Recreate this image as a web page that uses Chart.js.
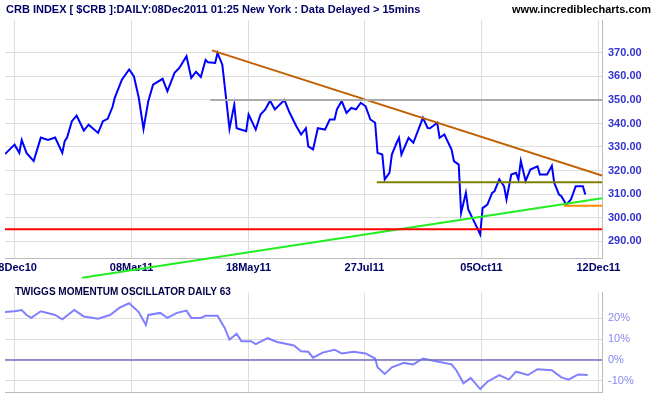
<!DOCTYPE html>
<html>
<head>
<meta charset="utf-8">
<script src="https://cdn.jsdelivr.net/npm/chart.js@4/dist/chart.umd.min.js"></script>
<style>
  body { margin: 0; background: #fff; width: 665px; height: 405px; position: relative; overflow: hidden; font-family: Arial, "Liberation Sans", sans-serif; }
  .box { position: absolute; left: 0; width: 665px; }
  #title { position: absolute; left: 6px; top: 3px; font-size: 11px; font-weight: bold; color: #000066; }
  #site { position: absolute; right: 14px; top: 3px; font-size: 11px; font-weight: bold; color: #000; }
  #oscTitle { position: absolute; left: 15px; top: 286px; font-size: 10px; font-weight: bold; color: #000044; }
</style>
</head>
<body>
<div class="box" style="top:0;height:285px"><canvas id="priceChart"></canvas></div>
<div class="box" style="top:280px;height:125px"><canvas id="oscChart"></canvas></div>
<div id="title">CRB INDEX [ $CRB ]:DAILY:08Dec2011 01:25 New York : Data Delayed &gt; 15mins</div>
<div id="site">www.incrediblecharts.com</div>
<div id="oscTitle">TWIGGS MOMENTUM OSCILLATOR DAILY 63</div>
<script>
// trading day index (0 = 28Dec10)
let dateTicks = [0, 49, 98, 146.5, 195.5, 244.5];
let dateLabels = ['28Dec10', '08Mar11', '18May11', '27Jul11', '05Oct11', '12Dec11'];

let priceDays = [-4, 0, 2, 3, 5, 8, 11, 14, 17, 20, 21, 22, 24, 26, 29, 31, 35, 37, 39, 41, 42, 45, 48, 50, 52, 54, 56, 58, 62, 64, 67, 69, 72, 74, 76, 78, 80, 81, 84, 85, 87, 89, 90, 92, 93, 97, 98, 101, 103, 105, 107, 109, 113, 115, 118, 120, 122, 123, 125, 127, 130, 132,
  134, 135, 137, 139, 141, 143, 145, 147, 149, 151, 152, 154, 155, 157, 158, 160, 161, 162, 165, 167, 171, 173, 174, 177, 178, 180, 183, 184, 186, 187, 189, 190, 192, 194, 195, 196, 198, 200, 201, 203, 205, 206, 208, 210, 211, 212, 214, 216, 219, 220, 223, 225, 226, 228, 229, 231, 233, 235, 238, 239];
let priceValues = [327, 331, 327.5, 333, 327.5, 324, 334, 333, 334, 327.5, 332.5, 334, 341, 343.4, 337, 339.5, 336, 341, 342, 347, 351, 358.7, 363, 360, 351, 337.7, 349.5, 356.5, 359, 353.7, 361.5, 363.6, 368.6, 359.4, 362, 359.8, 367, 366, 365.7, 370, 365, 347, 337.7, 348, 338, 336.7, 343.8, 337.4, 343.8, 346, 349.7, 346, 350, 345, 338.8, 335.3, 338, 330.3, 329, 338, 337.4, 341.7,
  341.7, 346, 349.5, 344.5, 346.6, 346, 348.8, 347.3, 341.7, 340.3, 327.5, 326.8, 316.2, 319, 326.8, 331.8, 333.9, 326.8, 333.9, 331.8, 342.4, 338.1, 338, 340.3, 333.9, 335.3, 328.9, 324, 322.5, 302, 310.5, 303.4, 299.2, 295, 292.8, 304, 305.5, 310.5, 311.2, 316.2, 313.3, 307.7, 318.3, 319, 316.2, 324, 315.5, 320.4, 321.8, 318.3, 318.3, 322, 314.8, 309.8, 309.1, 305.5, 307.7, 313.3, 313.3, 309.8];

let oscDays = [-4, 0, 3, 5, 7, 11, 17, 20, 25, 29, 35, 40, 44, 48, 52, 55, 56, 61, 64, 68, 72, 74, 78, 80, 85, 88, 90, 93, 95, 99, 101, 106, 110, 117, 120, 123, 125, 129, 134, 137, 142, 147, 151, 152, 155, 158, 163, 167, 171, 177, 183, 185, 188, 191, 195, 198, 203, 207, 210, 215, 219, 225, 229, 232, 236, 240];
let oscValues = [22.9, 23.3, 23.9, 21.5, 20.1, 23.3, 21.5, 19.4, 23.9, 20.8, 19.7, 21.5, 25, 27.1, 22.9, 16.7, 21.5, 22.5, 20.1, 22.5, 23.6, 20.1, 20.1, 21.1, 21.1, 15.3, 9.7, 12.5, 9, 9, 7.6, 10.4, 8.6, 6.9, 4.2, 3.9, 1.1, 3.5, 4.9, 3.1, 3.9, 3.1, 0.7, -3.5, -6.7, -3.5, -1.4, -2.1, 0.7, -0.7, -2.1, -4.9, -11.1, -8.6, -13.9, -10.4, -7.2, -9.4, -5.6, -7.2, -4.4, -4.9, -8.3, -9.4, -6.9, -7.2];

// trend lines: [startDay, startValue, endDay, endValue]
let resistanceLine = [82.7, 371.1, 246, 317.9];
let supportLine = [28.3, 274.4, 246, 308.2];
let level350 = [82, 350, 246, 350];
let level315 = [151.7, 315, 246, 315];
let level305 = [230, 305, 246, 305];
let level295 = [-4, 295, 246, 295];

function seg(a) { return [{x: a[0], y: a[1]}, {x: a[2], y: a[3]}]; }
function pairs(xs, ys) { return xs.map((x, i) => ({x: x, y: ys[i]})); }
function lineSet(a, color, w, clip) {
    return {data: seg(a), borderColor: color, borderWidth: w, pointRadius: 0, clip: clip ? false : undefined};
}

let xMin = -4, xMax = 246;
let grid = '#dddddd';

function xScale(showLabels, h) {
    return {
        type: 'linear', min: xMin, max: xMax,
        afterBuildTicks: s => { s.ticks = dateTicks.map(v => ({value: v})); },
        ticks: {
            display: showLabels, autoSkip: false, maxRotation: 0,
            color: '#000066', font: {size: 11, weight: 'bold', family: 'Arial'},
            callback: (v, i) => dateLabels[i]
        },
        grid: {color: grid, drawTicks: false},
        border: {color: '#bbbbbb'},
        afterFit: s => { s.height = h; s.paddingLeft = 0; s.paddingRight = 0; }
    };
}

new Chart(document.getElementById('priceChart').getContext('2d'), {
    type: 'line',
    data: {
        datasets: [
            lineSet(level295, '#ff0000', 2),
            lineSet(level350, '#aaaaaa', 2),
            lineSet(level315, '#808000', 2),
            lineSet(level305, '#ff8c00', 2),
            lineSet(resistanceLine, '#c06000', 2),
            lineSet(supportLine, '#22ee22', 2, true),
            {data: pairs(priceDays, priceValues), borderColor: '#0000ff', borderWidth: 2, pointRadius: 0, tension: 0}
        ]
    },
    options: {
        animation: false, responsive: true, maintainAspectRatio: false,
        layout: {padding: {left: 5, top: 20, right: 0, bottom: 0}},
        plugins: {legend: {display: false}, tooltip: {enabled: false}},
        scales: {
            x: xScale(true, 27),
            y: {
                position: 'right', min: 282.8, max: 384,
                afterBuildTicks: s => { s.ticks = [290, 300, 310, 320, 330, 340, 350, 360, 370].map(v => ({value: v})); },
                ticks: {color: '#3333cc', font: {size: 11, weight: 'bold', family: 'Arial'}, padding: 6, callback: v => v.toFixed(2)},
                grid: {color: grid, drawTicks: false},
                border: {color: '#bbbbbb'},
                afterFit: s => { s.width = 63; }
            }
        }
    }
});

new Chart(document.getElementById('oscChart').getContext('2d'), {
    type: 'line',
    data: {
        datasets: [
            lineSet([xMin, 0, xMax, 0], '#7070c0', 1.5),
            {data: pairs(oscDays, oscValues), borderColor: '#8080ff', borderWidth: 2, pointRadius: 0, tension: 0}
        ]
    },
    options: {
        animation: false, responsive: true, maintainAspectRatio: false,
        layout: {padding: {left: 5, top: 3, right: 0, bottom: 0}},
        plugins: {legend: {display: false}, tooltip: {enabled: false}},
        scales: {
            x: xScale(false, 8),
            y: {
                position: 'right', min: -15.5, max: 32.2,
                afterBuildTicks: s => { s.ticks = [-10, 0, 10, 20].map(v => ({value: v})); },
                ticks: {color: '#8888ee', font: {size: 11, family: 'Arial'}, padding: 6, callback: v => v + '%'},
                grid: {color: grid, drawTicks: false},
                border: {color: '#bbbbbb'},
                afterFit: s => { s.width = 63; }
            }
        }
    }
});
</script>
</body>
</html>
